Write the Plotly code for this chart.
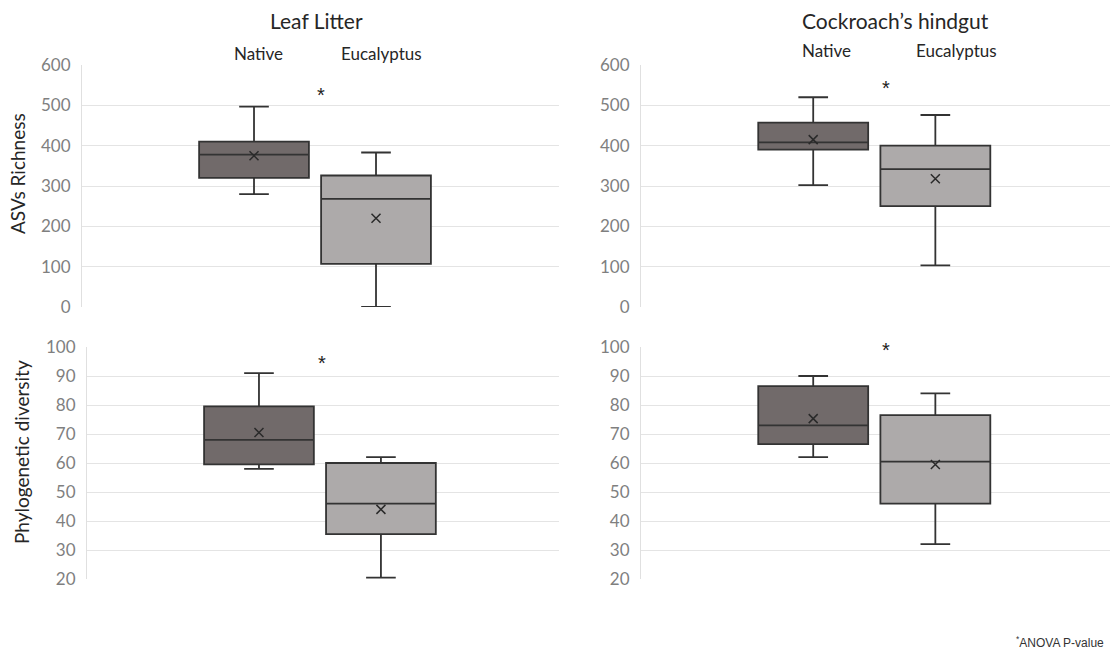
import plotly.graph_objects as go

# ---------------- data ----------------
groups = ["Native", "Eucalyptus"]
panel_titles = ["Leaf Litter", "Cockroach\u2019s hindgut"]
row_titles = ["ASVs Richness", "Phylogenetic diversity"]

# Leaf litter - ASVs richness
leaf_asv_lower = [280, 0]
leaf_asv_q1 = [320, 107]
leaf_asv_median = [378, 268]
leaf_asv_q3 = [410, 326]
leaf_asv_upper = [497, 383]
leaf_asv_mean = [375, 220]

# Cockroach hindgut - ASVs richness
gut_asv_lower = [302, 103]
gut_asv_q1 = [390, 250]
gut_asv_median = [408, 342]
gut_asv_q3 = [457, 400]
gut_asv_upper = [520, 476]
gut_asv_mean = [415, 318]

# Leaf litter - phylogenetic diversity
leaf_pd_lower = [58, 20.5]
leaf_pd_q1 = [59.5, 35.5]
leaf_pd_median = [68, 46]
leaf_pd_q3 = [79.5, 60]
leaf_pd_upper = [91, 62]
leaf_pd_mean = [70.5, 44]

# Cockroach hindgut - phylogenetic diversity
gut_pd_lower = [62, 32]
gut_pd_q1 = [66.5, 46]
gut_pd_median = [73, 60.5]
gut_pd_q3 = [86.5, 76.5]
gut_pd_upper = [90, 84]
gut_pd_mean = [75.3, 59.5]

asv_ticks = [0, 100, 200, 300, 400, 500, 600]
pd_ticks = [20, 30, 40, 50, 60, 70, 80, 90, 100]

# ---------------- style ----------------
FONT = "Lato, 'Open Sans', sans-serif"
fills = ["#716a6a", "#adaaaa"]
edge = "#333333"
grid = "#e4e4e4"
tickc = "#7f7f7f"

panels = [
    (leaf_asv_lower, leaf_asv_q1, leaf_asv_median, leaf_asv_q3, leaf_asv_upper, leaf_asv_mean),
    (gut_asv_lower, gut_asv_q1, gut_asv_median, gut_asv_q3, gut_asv_upper, gut_asv_mean),
    (leaf_pd_lower, leaf_pd_q1, leaf_pd_median, leaf_pd_q3, leaf_pd_upper, leaf_pd_mean),
    (gut_pd_lower, gut_pd_q1, gut_pd_median, gut_pd_q3, gut_pd_upper, gut_pd_mean),
]

fig = go.Figure()
xpos = [1, 2]
for p, (lo, q1, med, q3, up, mean) in enumerate(panels):
    suffix = "" if p == 0 else str(p + 1)
    for g in range(2):
        fig.add_trace(go.Box(
            x=[xpos[g]], lowerfence=[lo[g]], q1=[q1[g]], median=[med[g]],
            q3=[q3[g]], upperfence=[up[g]], width=0.9, whiskerwidth=0.27,
            fillcolor=fills[g], line=dict(color=edge, width=1.8),
            name=groups[g], showlegend=False, hoverinfo="skip",
            xaxis="x" + suffix, yaxis="y" + suffix,
        ))
    fig.add_trace(go.Scatter(
        x=xpos, y=mean, mode="markers",
        marker=dict(symbol="x-thin", size=9, line=dict(color="#2a2a2a", width=1.5)),
        showlegend=False, hoverinfo="skip", cliponaxis=False,
        xaxis="x" + suffix, yaxis="y" + suffix,
    ))

H = 651.0
W = 1110.0
top_dom = [1 - 307 / H, 1 - 65 / H]
bot_dom = [1 - 579 / H, 1 - 347 / H]

xcommon = dict(showgrid=False, zeroline=False, showticklabels=False, ticks="",
               showline=False, fixedrange=True, automargin=False)
ycommon = dict(showgrid=True, gridcolor=grid, gridwidth=1, zeroline=False,
               showline=True, linecolor="#e0e0e0", linewidth=1, ticks="",
               automargin=False, fixedrange=True,
               tickfont=dict(family=FONT, size=17, color=tickc), ticklabelstandoff=7)

layout = dict(
    width=1110, height=651, margin=dict(l=0, r=0, t=0, b=0, autoexpand=False),
    paper_bgcolor="white", plot_bgcolor="white",
    xaxis=dict(xcommon, domain=[82 / W, 559 / W], range=[-0.41, 3.5], anchor="y"),
    xaxis2=dict(xcommon, domain=[641 / W, 1.0], range=[-0.41, 3.43], anchor="y2"),
    xaxis3=dict(xcommon, domain=[87 / W, 559 / W], range=[-0.41, 3.46], anchor="y3"),
    xaxis4=dict(xcommon, domain=[641 / W, 1.0], range=[-0.41, 3.43], anchor="y4"),
    yaxis=dict(ycommon, domain=top_dom, range=[0, 600], tickvals=asv_ticks, anchor="x"),
    yaxis2=dict(ycommon, domain=top_dom, range=[0, 600], tickvals=asv_ticks, anchor="x2"),
    yaxis3=dict(ycommon, domain=bot_dom, range=[20, 100], tickvals=pd_ticks, anchor="x3"),
    yaxis4=dict(ycommon, domain=bot_dom, range=[20, 100], tickvals=pd_ticks, anchor="x4"),
)
fig.update_layout(**layout)

ann = []
mid = dict(xanchor="center", yanchor="middle", showarrow=False)
# panel titles
ann.append(dict(mid, text=panel_titles[0], x=316 / W, y=1 - 20 / H, xref="paper", yref="paper",
                font=dict(family=FONT, size=21, color="#262626")))
ann.append(dict(mid, text=panel_titles[1], x=895 / W, y=1 - 20 / H, xref="paper", yref="paper",
                font=dict(family=FONT, size=21, color="#262626")))
# group labels above top panels
for suffix, ys, xs in (("", 1 - 53 / H, [258, 381]), ("2", 1 - 51 / H, [826, 956])):
    for g in range(2):
        ann.append(dict(mid, text=groups[g], x=xs[g] / W, y=ys, xref="paper", yref="paper",
                        font=dict(family=FONT, size=17, color="#262626")))
# row titles
ann.append(dict(mid, text=row_titles[0], x=18 / W, y=1 - 174 / H, xref="paper", yref="paper",
                textangle=-90, font=dict(family=FONT, size=19, color="#262626")))
ann.append(dict(mid, text=row_titles[1], x=22 / W, y=1 - 452 / H, xref="paper", yref="paper",
                textangle=-90, font=dict(family=FONT, size=19, color="#262626")))
# significance asterisks (placed between the two boxes)
for suffix, xs, ypx in (("", 1.55, 95), ("2", 1.6, 88), ("3", 1.52, 363), ("4", 1.6, 350)):
    ann.append(dict(mid, text="*", x=xs, y=1 - ypx / H, xref="x" + suffix, yref="paper",
                    font=dict(family="Arial", size=20, color="#222222")))
# footnote
ann.append(dict(text="<sup>*</sup>ANOVA P-value", x=1106 / W, y=1 - 642 / H, xref="paper",
                yref="paper", xanchor="right", yanchor="middle", showarrow=False,
                font=dict(family="Liberation Sans, Arial", size=12, color="#333333")))
fig.update_layout(annotations=ann)

fig.write_html("out.html", config={"displayModeBar": False},
               post_script="document.body.style.margin='0';")
